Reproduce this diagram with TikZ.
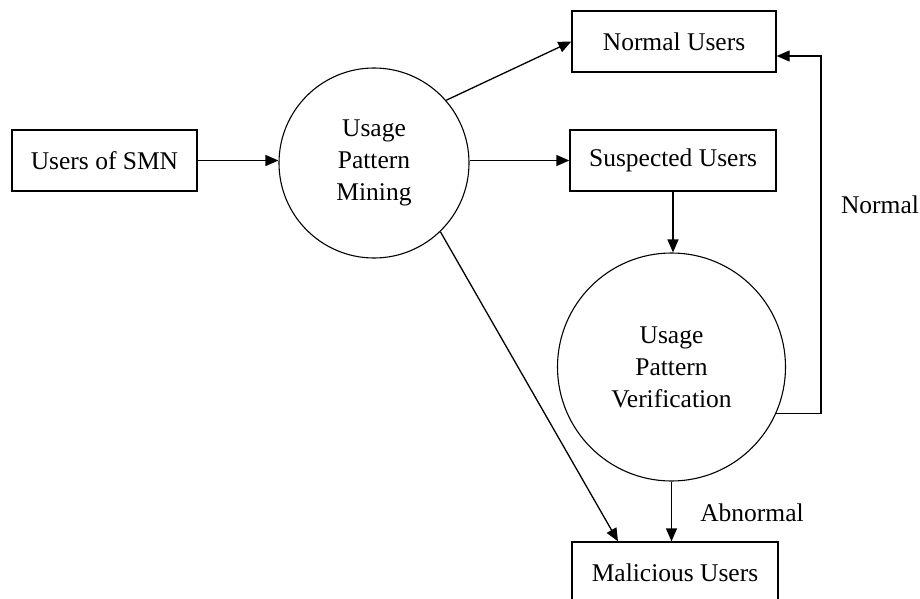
\documentclass[tikz,border=0pt]{standalone}
\usepackage{fontspec}
\setmainfont{Liberation Serif}
\usetikzlibrary{arrows.meta,calc}
\begin{document}
\begin{tikzpicture}[x=1pt,y=1pt,
  every node/.style={font=\fontsize{25.5}{32}\selectfont, inner sep=0pt},
  box/.style={draw, line width=1.3pt, rectangle, minimum height=61pt},
  proc/.style={draw, line width=1.1pt, circle, align=center},
  arr/.style={line width=1.3pt, -{Triangle[length=13pt,width=11pt]}},
  lbl/.style={}]
\useasboundingbox (0,0) rectangle (920,-599);
\node[box, minimum width=185pt] (smn) at (104.5,-160.5) {Users of SMN};
\node[proc, minimum size=190pt] (c1) at (374,-163) {Usage\\Pattern\\Mining};
\node[box, minimum width=204pt] (nu) at (674,-41.5) {Normal Users};
\node[box, minimum width=206pt] (su) at (673,-160.5) {Suspected Users};
\node[proc, minimum size=228pt] (c2) at (671.5,-367) {Usage\\Pattern\\Verification};
\node[box, minimum width=206pt] (mu) at (675,-572.5) {Malicious Users};
\node[lbl] (ab) at (752,-513) {Abnormal};
\node[lbl] (nl) at (880,-205) {Normal};
\coordinate (fbx) at (821,0);
\coordinate (nutgt) at ([yshift=-14.5pt]nu.east);
\coordinate (mutgt) at ([xshift=-57pt]mu.north);
\draw[arr] (smn.east) -- (smn.east -| c1.west);
\draw[arr] (c1.east |- su.west) -- (su.west);
\draw[arr] (c1.41.6) -- (nu.west);
\draw[arr] (su.south) -- (su.south |- c2.north);
\draw[arr] (c2.south) -- (c2.south |- mu.north);
\draw[arr] (c1.-46) -- (mutgt);
\draw[arr] (c2.-24) -| (fbx |- nutgt) -- (nutgt);
\end{tikzpicture}
\end{document}
